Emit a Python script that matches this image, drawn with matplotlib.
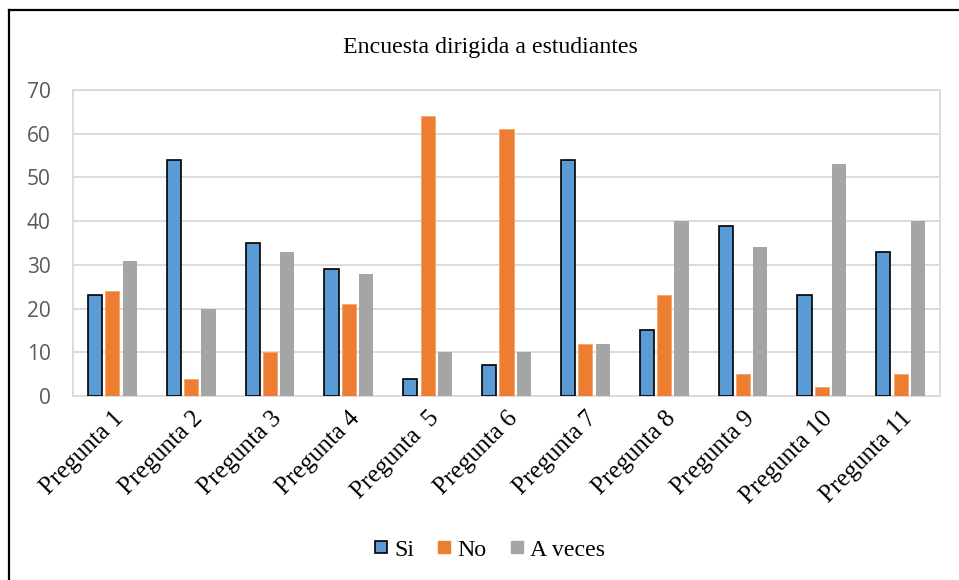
import numpy as np
import matplotlib
matplotlib.use('Agg')
import matplotlib.pyplot as plt
from matplotlib.lines import Line2D

categories = ['Pregunta 1', 'Pregunta 2', 'Pregunta 3', 'Pregunta 4', 'Pregunta  5', 'Pregunta 6',
              'Pregunta 7', 'Pregunta 8', 'Pregunta 9', 'Pregunta 10', 'Pregunta 11']
si = [23, 54, 35, 29, 4, 7, 54, 15, 39, 23, 33]
no = [24, 4, 10, 21, 64, 61, 12, 23, 5, 2, 5]
a_veces = [31, 20, 33, 28, 10, 10, 12, 40, 34, 53, 40]
yticks = [0, 10, 20, 30, 40, 50, 60, 70]

serif = 'Liberation Serif'
grid_col = '#D9D9D9'

fig = plt.figure(figsize=(9.59, 5.80), dpi=100)
ax = fig.add_axes([0.0761, 0.3172, 0.9042, 0.5276])

x = np.arange(len(categories))
w = 0.18
step = 0.22
ax.bar(x - step, si, w, color='#5B9BD5', edgecolor='black', linewidth=1.2, label='Si', zorder=3)
ax.bar(x, no, w, color='#ED7D31', edgecolor='#F4A46E', linewidth=0.6, label='No', zorder=3)
ax.bar(x + step, a_veces, w, color='#A5A5A5', linewidth=0, label='A veces', zorder=3)

ax.set_xlim(-0.5, len(categories) - 0.5)
ax.set_ylim(0, 70)
ax.set_yticks(yticks)
ax.set_yticklabels([str(v) for v in yticks], fontfamily='Open Sans', fontsize=15, color='#595959')
ax.tick_params(axis='y', length=0, pad=16)
ax.yaxis.grid(True, color=grid_col, linewidth=1.3, zorder=0)
ax.set_axisbelow(True)

ax.set_xticks(x)
ax.set_xticklabels(categories, rotation=45, ha='right', va='top', rotation_mode='anchor',
                   fontfamily=serif, fontsize=18, color='black')
ax.tick_params(axis='x', length=0, pad=8)

for s in ax.spines.values():
    s.set_color(grid_col)
    s.set_linewidth(1.3)

fig.text(0.511, 0.918, 'Encuesta dirigida a estudiantes', ha='center', va='center',
         fontfamily=serif, fontsize=17.2)

handles = [
    Line2D([], [], marker='s', linestyle='none', markersize=8, markerfacecolor='#5B9BD5',
           markeredgecolor='black', markeredgewidth=1.2),
    Line2D([], [], marker='s', linestyle='none', markersize=8, markerfacecolor='#ED7D31',
           markeredgecolor='#ED7D31'),
    Line2D([], [], marker='s', linestyle='none', markersize=8, markerfacecolor='#A5A5A5',
           markeredgecolor='#A5A5A5'),
]
fig.legend(handles, ['Si', 'No', 'A veces'], loc='center', bbox_to_anchor=(0.511, 0.052), ncol=3,
           frameon=False, prop={'family': serif, 'size': 17.2}, handlelength=0.5,
           handletextpad=0.3, columnspacing=1.0)

# outer border (left and top only, as in the picture)
fig.add_artist(Line2D([0.0094, 0.0094], [0, 0.983], color='black', linewidth=1.6))
fig.add_artist(Line2D([0.0094, 1.0], [0.983, 0.983], color='black', linewidth=1.6))

fig.savefig('out.png', dpi=100, facecolor='white')
